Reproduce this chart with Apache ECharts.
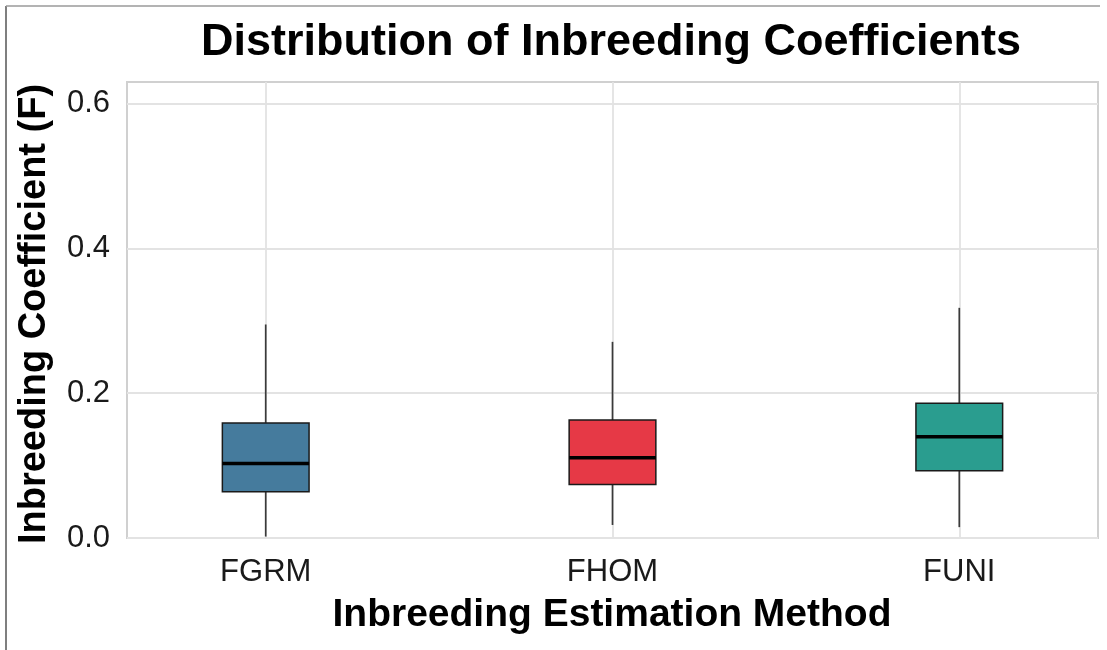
<!DOCTYPE html>
<html>
<head>
<meta charset="utf-8">
<title>Distribution of Inbreeding Coefficients</title>
<script src="https://cdn.jsdelivr.net/npm/echarts@6/dist/echarts.min.js"></script>
<style>
  html, body { margin: 0; padding: 0; background: #ffffff; }
  #chart { width: 1107px; height: 650px; }
</style>
</head>
<body>
<div id="chart"></div>
<script>
// Inbreeding estimation methods and their five-number summaries (F)
const methods      = ['FGRM', 'FHOM', 'FUNI'];
const whiskerLow   = [0.002, 0.018, 0.015];
const quartile1    = [0.064, 0.074, 0.093];
const medians      = [0.103, 0.111, 0.140];
const quartile3    = [0.159, 0.163, 0.186];
const whiskerHigh  = [0.295, 0.271, 0.318];
const fillColors   = ['#457b9d', '#e63946', '#2a9d8f'];
const yTickValues  = [0, 0.2, 0.4, 0.6];
const xTickValues  = [0, 1, 2];

const FONT = '"Liberation Sans", Arial, Helvetica, sans-serif';
const BOX_WIDTH = 0.25;          // in category units
const GRID_COLOR = '#e3e3e3';

const boxData = methods.map((m, i) =>
  [i, whiskerLow[i], quartile1[i], medians[i], quartile3[i], whiskerHigh[i]]);

const chart = echarts.init(document.getElementById('chart'), null, { renderer: 'canvas' });

chart.setOption({
  animation: false,
  backgroundColor: '#ffffff',
  grid: {
    left: 127, right: 9, top: 82, bottom: 112,
    show: true,
    borderColor: '#d0d0d0',
    borderWidth: 2,
    backgroundColor: 'transparent'
  },
  xAxis: {
    type: 'value',
    min: -0.4,
    max: 2.4,
    axisLine: { show: false },
    axisTick: { show: false, customValues: xTickValues },
    axisLabel: {
      customValues: xTickValues,
      formatter: v => methods[Math.round(v)] || '',
      fontFamily: FONT,
      fontSize: 31,
      color: '#1a1a1a',
      margin: 19
    },
    splitLine: { show: true, lineStyle: { color: GRID_COLOR, width: 1.8 } }
  },
  yAxis: {
    type: 'value',
    min: 0,
    max: 0.63,
    axisLine: { show: false },
    axisTick: { show: false, customValues: yTickValues },
    axisLabel: {
      customValues: yTickValues,
      formatter: v => v.toFixed(1),
      fontFamily: FONT,
      fontSize: 31,
      color: '#1a1a1a',
      margin: 17
    },
    splitLine: { show: true, lineStyle: { color: GRID_COLOR, width: 1.8 } }
  },
  series: [{
    type: 'custom',
    name: 'F',
    data: boxData,
    encode: { x: 0, y: [1, 2, 3, 4, 5] },
    renderItem: function (params, api) {
      const i = api.value(0);
      const pLow  = api.coord([i, api.value(1)]);
      const pQ1   = api.coord([i, api.value(2)]);
      const pMed  = api.coord([i, api.value(3)]);
      const pQ3   = api.coord([i, api.value(4)]);
      const pHigh = api.coord([i, api.value(5)]);
      const w = api.size([BOX_WIDTH, 0])[0];
      const x = pQ1[0];
      const whisker = { stroke: '#3a3a3a', lineWidth: 1.7 };
      return {
        type: 'group',
        children: [
          { type: 'line', shape: { x1: x, y1: pQ3[1], x2: x, y2: pHigh[1] }, style: whisker },
          { type: 'line', shape: { x1: x, y1: pQ1[1], x2: x, y2: pLow[1] }, style: whisker },
          {
            type: 'rect',
            shape: { x: x - w / 2, y: pQ3[1], width: w, height: pQ1[1] - pQ3[1] },
            style: { fill: fillColors[i], stroke: '#1a1a1a', lineWidth: 1.5 }
          },
          {
            type: 'line',
            shape: { x1: x - w / 2, y1: pMed[1], x2: x + w / 2, y2: pMed[1] },
            style: { stroke: '#000000', lineWidth: 3.5 }
          }
        ]
      };
    }
  }],
  graphic: [
    // outer frame (left and top edges)
    { type: 'line', shape: { x1: 6, y1: 6, x2: 6, y2: 650 }, style: { stroke: '#555555', lineWidth: 1.5 }, silent: true },
    { type: 'line', shape: { x1: 6, y1: 6, x2: 1100, y2: 6 }, style: { stroke: '#9a9a9a', lineWidth: 1.5 }, silent: true },
    {
      type: 'text', x: 611, y: 43,
      style: {
        text: 'Distribution of Inbreeding Coefficients',
        font: 'bold 45px ' + FONT, fill: '#000000',
        textAlign: 'center', textVerticalAlign: 'middle'
      }
    },
    {
      type: 'text', x: 612, y: 615,
      style: {
        text: 'Inbreeding Estimation Method',
        font: 'bold 39px ' + FONT, fill: '#000000',
        textAlign: 'center', textVerticalAlign: 'middle'
      }
    },
    {
      type: 'text', x: 35, y: 314, rotation: Math.PI / 2,
      style: {
        text: 'Inbreeding Coefficient (F)',
        font: 'bold 38px ' + FONT, fill: '#000000',
        textAlign: 'center', textVerticalAlign: 'middle'
      }
    }
  ]
});
</script>
</body>
</html>
